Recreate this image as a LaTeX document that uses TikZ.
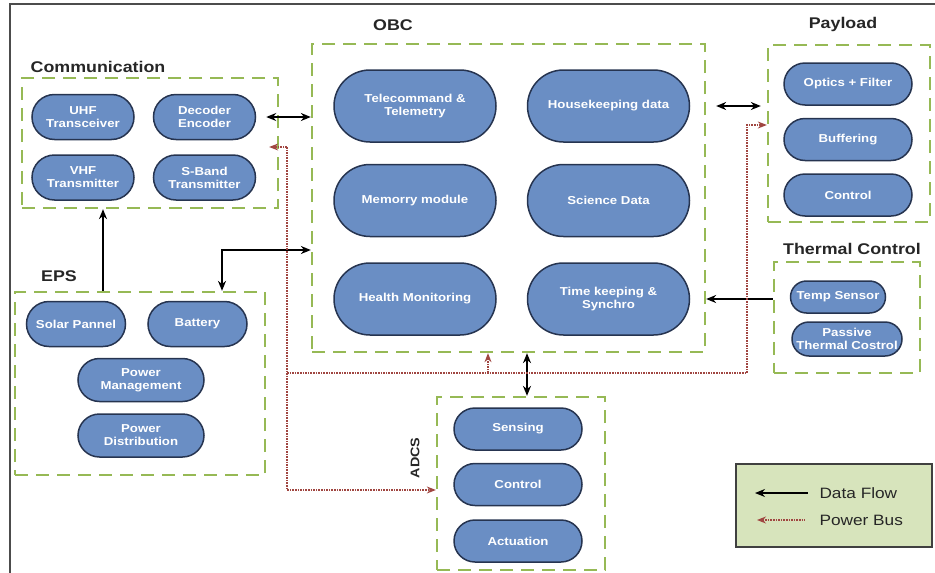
\documentclass[tikz,border=0pt]{standalone}
\usepackage{fontspec}
\setmainfont{Liberation Sans}[FakeStretch=1.15]
\usetikzlibrary{arrows.meta,shapes.misc,positioning}

\definecolor{unitfill}{RGB}{106,142,196}
\definecolor{unitline}{RGB}{38,52,80}
\definecolor{groupline}{RGB}{150,185,85}
\definecolor{busred}{RGB}{160,70,65}
\definecolor{legendfill}{RGB}{215,228,188}

\begin{document}
\begin{tikzpicture}[x=1pt,y=-1pt,
		unit/.style={rounded rectangle,draw=unitline,line width=1.5pt,fill=unitfill,
			text=white,font=\bfseries\fontsize{11.5}{13}\selectfont,align=center,inner sep=1pt},
		commu/.style={unit,minimum width=104pt,minimum height=45pt},
		obcu/.style={unit,minimum width=164pt,minimum height=72pt},
		payu/.style={unit,minimum width=130pt,minimum height=42pt},
		group/.style={draw=groupline,line width=2.3pt,dash pattern=on 13pt off 8pt},
		grouptitle/.style={font=\bfseries\fontsize{15.5}{17}\selectfont,text=black!85},
		legendtext/.style={anchor=west,font=\fontsize{15}{17}\selectfont,text=black!85},
		data/.style={line width=1.3pt,>={Stealth[length=10pt,width=8pt]}},
		power/.style={draw=busred,line width=1.3pt,dash pattern=on 1.6pt off 1pt,
			>={Stealth[length=9pt,width=7pt]}}
		]
		\useasboundingbox (0,0) rectangle (935,573);
		\draw[black!70, line width=1.5pt] (10,573) -- (10,4) -- (935,4);
		
		% groups
		\node[group, minimum width=256pt, minimum height=130pt](comm) at (150,143){};
		\node[group, minimum width=393pt, minimum height=308pt](obc) at (508.5,198){};
		\node[group, minimum width=162pt, minimum height=177pt](pay) at (849,133.5){};
		\node[group, minimum width=146pt, minimum height=111pt](thm) at (847,317.5){};
		\node[group, minimum width=250pt, minimum height=183pt](eps) at (140,383.5){};
		\node[group, minimum width=168pt, minimum height=173pt](adcs) at (521,483.5){};
		
		\node[grouptitle](commtitle) at (98,67){Communication};
		\node[grouptitle](obctitle) at (393,25){OBC};
		\node[grouptitle](paytitle) at (843,24){Payload};
		\node[grouptitle](thmtitle) at (852,249){Thermal Control};
		\node[grouptitle](epstitle) at (59,276){EPS};
		\node[grouptitle, rotate=90, font=\bfseries\fontsize{12.5}{14}\selectfont](adcstitle) at (415,458){ADCS};
		
		% communication
		\node[commu](uhf) at (83,117){UHF\\Transceiver};
		\node[commu, right = 18pt of uhf](dec){Decoder\\Encoder};
		\node[commu, below = 14pt of uhf](vhf){VHF\\Transmitter};
		\node[commu, right = 18pt of vhf](sbd){S-Band\\Transmitter};
		
		% obc
		\node[obcu](tct) at (415,106){Telecommand \&\\Telemetry};
		\node[obcu, right = 30pt of tct](hkd){Housekeeping data};
		\node[obcu, below = 21pt of tct](mem){Memorry module};
		\node[obcu, right = 30pt of mem](sci){Science Data};
		\node[obcu, below = 25pt of mem](hlt){Health Monitoring};
		\node[obcu, right = 30pt of hlt](tks){Time keeping \&\\Synchro};
		
		% payload
		\node[payu](opt) at (848,84){Optics + Filter};
		\node[payu, below = 12pt of opt](buf){Buffering};
		\node[payu, below = 12pt of buf](pctl){Control};
		
		% thermal control
		\node[unit, minimum width=97pt, minimum height=32pt](tmp) at (838,297){Temp Sensor};
		\node[unit, minimum width=112pt, minimum height=34pt](pas) at (847,339){Passive\\Thermal Costrol};
		
		% eps
		\node[unit, minimum width=101pt, minimum height=45pt](spn) at (76,324){Solar Pannel};
		\node[unit, minimum width=101pt, minimum height=45pt, right = 21pt of spn](bat){Battery};
		\node[unit, minimum width=128pt, minimum height=43pt](pmg) at (141,380){Power\\Management};
		\node[unit, minimum width=128pt, minimum height=43pt, below = 11pt of pmg](pdt){Power\\Distribution};
		
		% adcs
		\node[payu](sen) at (518,429){Sensing};
		\node[payu, below = 12pt of sen](actl){Control};
		\node[payu, below = 13pt of actl](act){Actuation};
		
		% data flow
		\draw[data,<->, shorten <=10pt] (dec.east) -- (dec.east -| obc.west);
		\draw[data,<->, shorten <=10pt, shorten >=6pt] (hkd.east -| obc.east) -- (hkd.east -| pay.west);
		\draw[data,->] (tks.east -| thm.west) -- (tks.east -| obc.east);
		\coordinate (obceps) at (222,250);
		\draw[data,<->] (obceps -| obc.west) -- (obceps) -- (obceps |- eps.north);
		\draw[data,->] ([xshift=-37pt]eps.north) -- ([xshift=-37pt]eps.north |- comm.south);
		\draw[data,<->] ([xshift=6pt]adcs.north) -- ([xshift=6pt]adcs.north |- obc.south);
		
		% power bus
		\coordinate (pcomm) at (287,147);
		\coordinate (padcs) at (287,490);
		\coordinate (pbus) at (287,373);
		\coordinate (ppay) at (747,125);
		\coordinate (pobc) at (488,373);
		\draw[power,->] (pcomm) -- ([xshift=-10pt]pcomm -| comm.east);
		\draw[power,->] (pcomm) -- (padcs) -- (padcs -| adcs.west);
		\draw[power,->] (pbus) -| (ppay) -- (ppay -| pay.west);
		\draw[power,->] (pobc) -- (pobc |- obc.south);
		
		% legend
		\node[draw=black!75, line width=1.8pt, fill=legendfill, minimum width=196pt,
		minimum height=83pt](leg) at (834,505.5){};
		\node[legendtext](lgdata) at (816,493){Data Flow};
		\node[legendtext](lgpower) at (816,520){Power Bus};
		\draw[data,<-] ([xshift=-61pt]lgdata.west) -- ([xshift=-8pt]lgdata.west);
		\draw[power,<-] ([xshift=-59pt]lgpower.west) -- ([xshift=-11pt]lgpower.west);
	\end{tikzpicture}
\end{document}
